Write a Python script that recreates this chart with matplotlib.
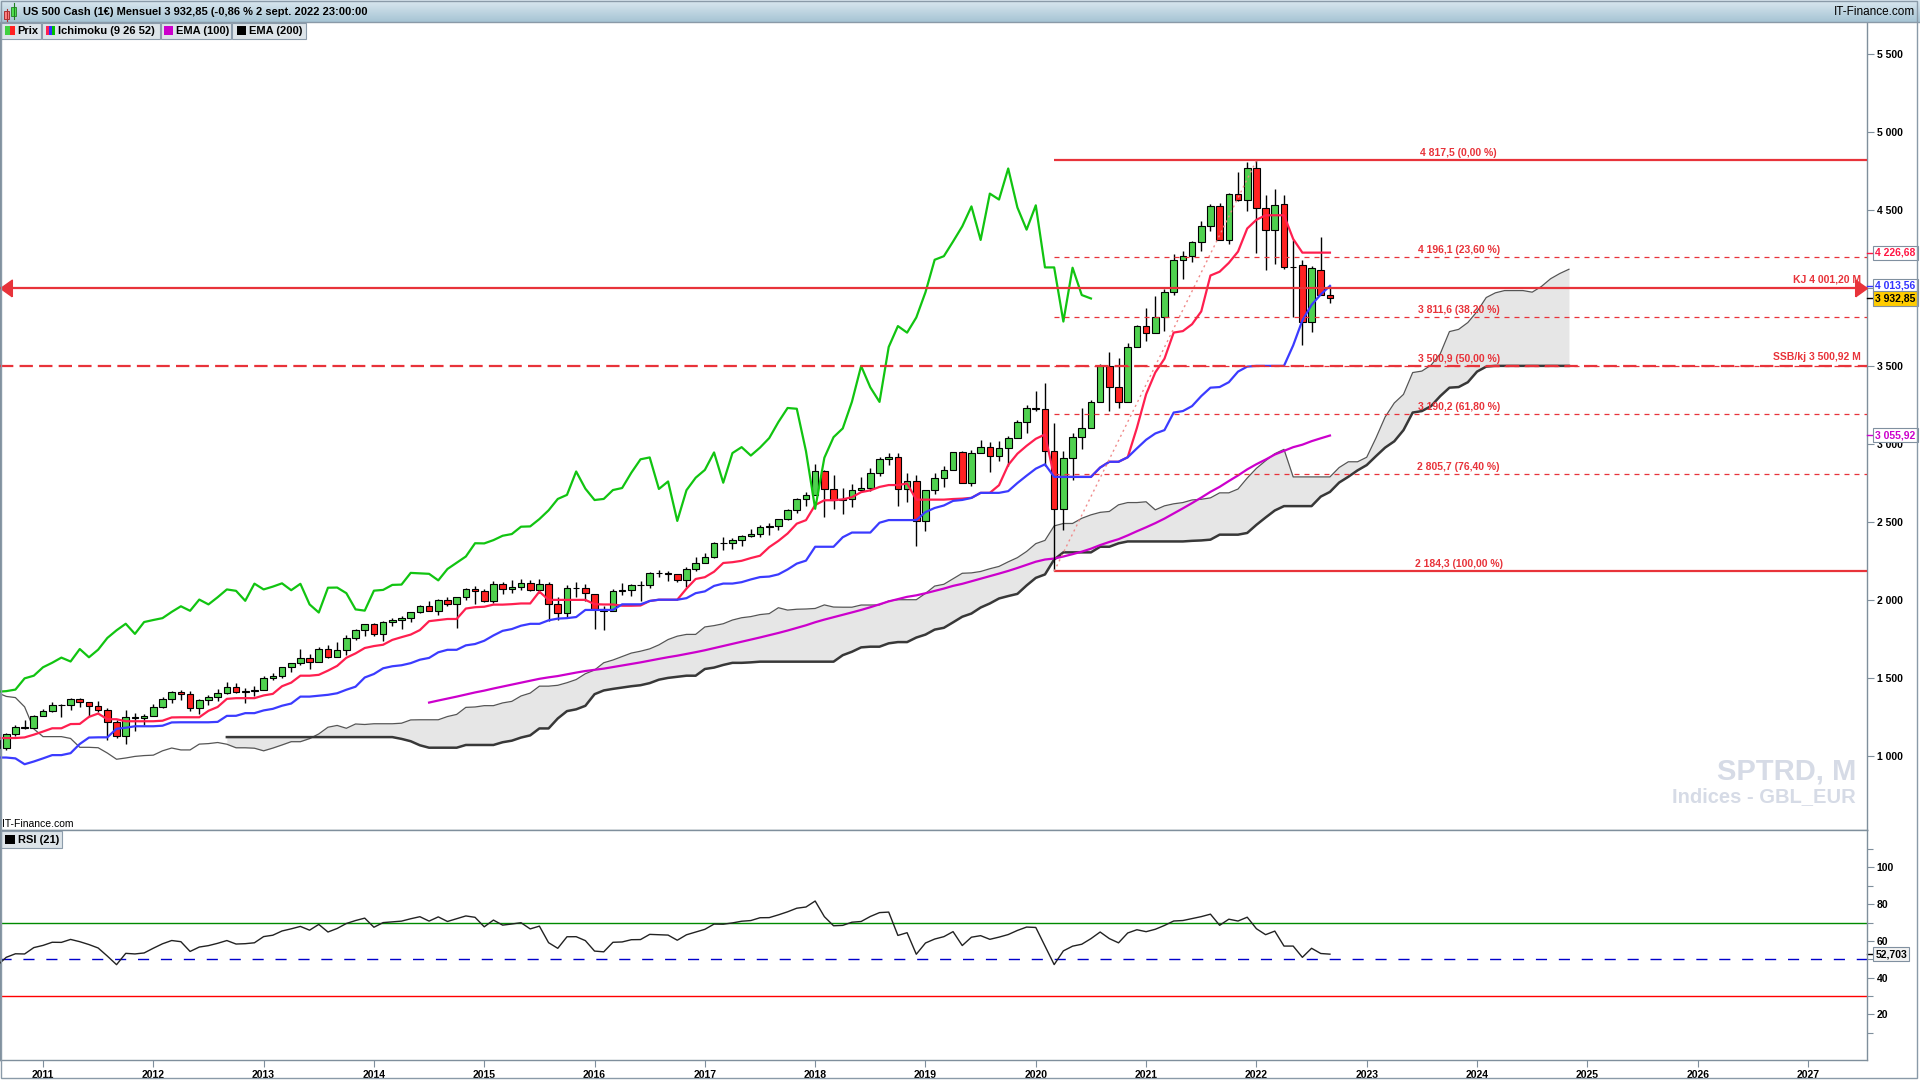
import numpy as np
import matplotlib
matplotlib.use("Agg")
import matplotlib.pyplot as plt
from matplotlib.patches import Rectangle
import matplotlib.transforms as mtransforms

plt.rcParams['font.family'] = ['Liberation Sans', 'DejaVu Sans']

# ---------------- data: monthly OHLC, Apr 2006 .. Sep 2022 ----------------
FIRST_MONTH_INDEX = -57   # Apr 2006, counted in months from Jan 2011

opens = [
    1295, 1311, 1270, 1270, 1277, 1304, 1336, 1378, 1401,
    1418, 1438, 1407, 1421, 1482, 1531, 1503, 1455, 1474, 1527, 1549, 1481,
    1468, 1379, 1331, 1323, 1386, 1400, 1280, 1267, 1283, 1166, 969, 896,
    903, 826, 735, 798, 873, 919, 919, 987, 1021, 1057, 1036, 1096,
    1115, 1074, 1104, 1169, 1187, 1089, 1031, 1102, 1049, 1141, 1183, 1181,
    1258, 1286, 1327, 1326, 1364, 1345, 1321, 1292, 1219, 1131, 1253, 1247,
    1258, 1312, 1366, 1408, 1398, 1310, 1362, 1379, 1407, 1441, 1412, 1416,
    1426, 1498, 1515, 1569, 1598, 1631, 1606, 1686, 1633, 1682, 1757, 1806,
    1848, 1783, 1859, 1872, 1884, 1924, 1960, 1931, 2003, 1972, 2018, 2068,
    2059, 1995, 2105, 2068, 2086, 2107, 2063, 2104, 1972, 1920, 2079, 2080,
    2038, 1940, 1932, 2060, 2065, 2097, 2099, 2174, 2171, 2168, 2126, 2199,
    2239, 2279, 2364, 2363, 2384, 2412, 2423, 2470, 2472, 2519, 2575, 2648,
    2674, 2824, 2714, 2641, 2648, 2705, 2718, 2816, 2902, 2914, 2712, 2760,
    2507, 2704, 2784, 2834, 2946, 2752, 2942, 2980, 2926, 2977, 3038, 3141,
    3231, 3226, 2954, 2585, 2912, 3044, 3100, 3271, 3500, 3363, 3270, 3622,
    3756, 3714, 3811, 3973, 4181, 4204, 4298, 4395, 4523, 4308, 4605, 4567,
    4766, 4516, 4374, 4540, 4132, 4149, 3785, 4113, 3955,
]
highs = [
    1318, 1326, 1290, 1283, 1306, 1340, 1389, 1407, 1432,
    1441, 1462, 1438, 1498, 1535, 1540, 1556, 1504, 1538, 1576, 1553, 1523,
    1471, 1396, 1359, 1397, 1440, 1405, 1293, 1314, 1303, 1167, 1008, 919,
    944, 876, 833, 880, 930, 957, 996, 1040, 1081, 1102, 1113, 1130,
    1150, 1113, 1181, 1220, 1200, 1131, 1120, 1129, 1148, 1196, 1228, 1263,
    1303, 1345, 1333, 1370, 1371, 1346, 1356, 1308, 1230, 1293, 1278, 1270,
    1334, 1378, 1420, 1422, 1415, 1363, 1392, 1427, 1475, 1470, 1434, 1448,
    1510, 1530, 1570, 1598, 1687, 1654, 1698, 1710, 1730, 1775, 1814, 1849,
    1850, 1867, 1884, 1897, 1924, 1968, 1991, 2005, 2019, 2018, 2076, 2093,
    2072, 2120, 2118, 2126, 2135, 2130, 2133, 2113, 2021, 2094, 2117, 2105,
    2038, 1963, 2072, 2111, 2103, 2120, 2178, 2194, 2188, 2169, 2214, 2278,
    2301, 2371, 2401, 2399, 2419, 2454, 2484, 2491, 2519, 2582, 2657, 2695,
    2873, 2835, 2801, 2718, 2742, 2791, 2849, 2917, 2941, 2940, 2816, 2800,
    2708, 2814, 2860, 2949, 2954, 2964, 3028, 3014, 3022, 3050, 3154, 3248,
    3338, 3394, 3137, 2955, 3068, 3233, 3280, 3514, 3588, 3550, 3646, 3760,
    3870, 3951, 3994, 4219, 4238, 4302, 4430, 4538, 4546, 4608, 4744, 4808,
    4817.5, 4595, 4637, 4593, 4307, 4177, 4141, 4325, 4011,
]
lows = [
    1280, 1245, 1219, 1224, 1262, 1290, 1327, 1360, 1385,
    1403, 1389, 1364, 1416, 1476, 1484, 1454, 1371, 1439, 1490, 1406, 1435,
    1270, 1317, 1257, 1312, 1373, 1272, 1200, 1248, 1107, 840, 741, 815,
    805, 735, 667, 784, 866, 893, 869, 979, 992, 1020, 1029, 1086,
    1071, 1045, 1102, 1168, 1040, 1028, 1011, 1040, 1041, 1131, 1174, 1177,
    1257, 1284, 1249, 1294, 1312, 1259, 1283, 1101, 1114, 1075, 1158, 1202,
    1258, 1311, 1340, 1357, 1291, 1267, 1325, 1355, 1397, 1403, 1343, 1385,
    1426, 1485, 1502, 1536, 1582, 1560, 1605, 1627, 1633, 1647, 1747, 1767,
    1770, 1738, 1834, 1815, 1859, 1915, 1930, 1905, 1964, 1821, 2001, 1973,
    1988, 1981, 2040, 2048, 2067, 2057, 2045, 1867, 1872, 1893, 2020, 1993,
    1812, 1810, 1932, 2033, 2025, 1992, 2074, 2147, 2120, 2114, 2084, 2187,
    2239, 2271, 2322, 2329, 2345, 2406, 2407, 2417, 2446, 2510, 2557, 2605,
    2674, 2533, 2585, 2553, 2595, 2692, 2699, 2796, 2864, 2603, 2631, 2346,
    2444, 2681, 2722, 2834, 2750, 2729, 2942, 2822, 2892, 2856, 3038, 3070,
    3214, 2856, 2184.3, 2447, 2767, 2966, 3100, 3271, 3209.6, 3234, 3270, 3622,
    3663, 3714, 3723, 3955, 4057, 4165, 4234, 4368, 4305, 4279, 4560, 4495,
    4222, 4115, 4157, 4125, 3811, 3636, 3721, 3954, 3904,
]
closes = [
    1311, 1270, 1270, 1277, 1304, 1336, 1378, 1401, 1418,
    1438, 1407, 1421, 1482, 1531, 1503, 1455, 1474, 1527, 1549, 1481, 1468,
    1379, 1331, 1323, 1386, 1400, 1280, 1267, 1283, 1166, 969, 896, 903,
    826, 735, 798, 873, 919, 919, 987, 1021, 1057, 1036, 1096, 1115,
    1074, 1104, 1169, 1187, 1089, 1031, 1102, 1049, 1141, 1183, 1181, 1258,
    1286, 1327, 1326, 1364, 1345, 1321, 1292, 1219, 1131, 1253, 1247, 1258,
    1312, 1366, 1408, 1398, 1310, 1362, 1379, 1407, 1441, 1412, 1416, 1426,
    1498, 1515, 1569, 1598, 1631, 1606, 1686, 1633, 1682, 1757, 1806, 1848,
    1783, 1859, 1872, 1884, 1924, 1960, 1931, 2003, 1972, 2018, 2068, 2059,
    1995, 2105, 2068, 2086, 2107, 2063, 2104, 1972, 1920, 2079, 2080, 2044,
    1940, 1932, 2060, 2065, 2097, 2099, 2174, 2171, 2168, 2126, 2199, 2239,
    2279, 2364, 2363, 2384, 2412, 2423, 2470, 2472, 2519, 2575, 2648, 2674,
    2824, 2714, 2641, 2648, 2705, 2718, 2816, 2902, 2914, 2712, 2760, 2507,
    2704, 2784, 2834, 2946, 2752, 2942, 2980, 2926, 2977, 3038, 3141, 3231,
    3226, 2954, 2585, 2912, 3044, 3100, 3271, 3500, 3363, 3270, 3622, 3756,
    3714, 3811, 3973, 4181, 4204, 4298, 4395, 4523, 4308, 4605, 4567, 4766,
    4516, 4374, 4530, 4132, 4132, 3785, 4130, 3955, 3932.85,
]

years = list(range(2011, 2028))
year_labels = [str(y) for y in years]
price_ticks = [1000, 1500, 2000, 2500, 3000, 3500, 4000, 4500, 5000, 5500]
price_tick_labels = ["1 000", "1 500", "2 000", "2 500", "3 000", "3 500", "", "4 500", "5 000", "5 500"]
rsi_ticks = [20, 40, 60, 80, 100]
rsi_minor = [10, 30, 50, 70, 90, 110]

fib_levels = [4817.5, 4196.1, 3811.6, 3500.9, 3190.2, 2805.7, 2184.3]
fib_texts = ["4 817,5 (0,00 %)", "4 196,1 (23,60 %)", "3 811,6 (38,20 %)", "3 500,9 (50,00 %)",
             "3 190,2 (61,80 %)", "2 805,7 (76,40 %)", "2 184,3 (100,00 %)"]
fib_solid = [True, False, False, False, False, False, True]
fib_low_month, fib_high_month = 110, 132      # Mar 2020, Jan 2022
kj_level, kj_text = 4001.20, "KJ 4 001,20 M"
ssb_level, ssb_text = 3500.92, "SSB/kj 3 500,92 M"

value_boxes = [  # value, text, text colour, face colour
    (4226.68, "4 226,68", "#ff1744", "white"),
    (4013.56, "4 013,56", "#3333ff", "white"),
    (3932.85, "3 932,85", "black", "#ffcc00"),
    (3055.92, "3 055,92", "#cc00cc", "white"),
]
rsi_box = (52.703, "52,703")

# ---------------- indicators ----------------
O = np.array(opens, float); H = np.array(highs, float)
L = np.array(lows, float); C = np.array(closes, float)
n = len(C)
xm = np.arange(n) + FIRST_MONTH_INDEX


def midpoint(p):
    out = np.full(n, np.nan)
    for i in range(p - 1, n):
        out[i] = (H[i - p + 1:i + 1].max() + L[i - p + 1:i + 1].min()) / 2
    return out


tenkan = midpoint(9)
kijun = midpoint(26)
ssa = (tenkan + kijun) / 2
ssb = midpoint(52)

ema100 = np.full(n, np.nan)
ema100[99] = C[:100].mean()
for i in range(100, n):
    ema100[i] = ema100[i - 1] + (C[i] - ema100[i - 1]) * 2 / 101

rsi = np.full(n, np.nan)
d = np.diff(C)
g = np.clip(d, 0, None); lo = np.clip(-d, 0, None)
ag = g[:21].mean(); al = lo[:21].mean()
rsi[21] = 100 - 100 / (1 + ag / al)
for i in range(22, n):
    ag = (ag * 20 + g[i - 1]) / 21
    al = (al * 20 + lo[i - 1]) / 21
    rsi[i] = 100 - 100 / (1 + ag / al)

# ---------------- figure ----------------
W, Hpx = 1920, 1080
fig = plt.figure(figsize=(19.2, 10.8), dpi=100)
fig.patch.set_facecolor("white")

X0, X1 = -43 / 9.1925, 1824 / 9.1925
axcol = "#7f8f9c"

ax = fig.add_axes([0, (Hpx - 830) / Hpx, 1867 / W, 808 / Hpx])
ax.set_xlim(X0, X1)
ax.set_ylim(526, 5705)
axr = fig.add_axes([0, (Hpx - 1060) / Hpx, 1867 / W, 230 / Hpx])
axr.set_xlim(X0, X1)
axr.set_ylim(-4.9, 120.4)

for a in (ax, axr):
    for s in a.spines.values():
        s.set_color(axcol)
        s.set_linewidth(1)
    a.yaxis.tick_right()
    a.tick_params(axis="y", direction="out", length=5, width=0.8, color=axcol, pad=2,
                  labelsize=7.5)
ax.spines["top"].set_visible(False)
ax.set_xticks([])
ax.set_yticks(price_ticks)
ax.set_yticklabels(price_tick_labels, fontweight="bold")

axr.set_yticks(rsi_ticks)
axr.set_yticklabels([str(t) for t in rsi_ticks], fontweight="bold")
axr.set_yticks(rsi_minor, minor=True)
axr.tick_params(axis="y", which="minor", direction="out", length=4, width=0.8, color=axcol)
axr.set_xticks([(y - 2011) * 12 for y in years])
axr.set_xticklabels(year_labels, fontweight="bold")
axr.tick_params(axis="x", direction="out", length=5, width=0.8, color=axcol, pad=2, labelsize=7.5)

# --- Ichimoku cloud ---
xs = xm + 26
ok = np.isfinite(ssb)
ax.fill_between(xs, ssa, ssb, where=ok, color="#e6e6e6", lw=0, zorder=1)
ax.plot(xs, ssa, color="#555555", lw=0.9, zorder=2)
ax.plot(xs, ssb, color="#383838", lw=1.8, zorder=2)

# --- EMA 100 ---
ax.plot(xm, ema100, color="#cc00cc", lw=1.6, zorder=3)

# --- candles ---
ax.vlines(xm, L, H, color="black", lw=1.0, zorder=4)
up = C >= O
body_bottom = np.minimum(O, C)
body_h = np.abs(C - O)
ax.bar(xm[up], body_h[up], bottom=body_bottom[up], width=0.72, color="#4fd14f",
       edgecolor="black", linewidth=0.8, zorder=5)
ax.bar(xm[~up], body_h[~up], bottom=body_bottom[~up], width=0.72, color="#ff2222",
       edgecolor="black", linewidth=0.8, zorder=5)

# --- Tenkan / Kijun / Chikou ---
ax.plot(xm, tenkan, color="#ff1f4f", lw=1.6, zorder=6)
ax.plot(xm, kijun, color="#3b3bff", lw=1.6, zorder=6)
ax.plot(xm - 26, C, color="#11c411", lw=1.6, zorder=6)

# --- Fibonacci ---
fibc = "#e8333a"
for lvl, txt, solid in zip(fib_levels, fib_texts, fib_solid):
    if solid:
        ax.hlines(lvl, fib_low_month, X1, color=fibc, lw=1.6, zorder=7)
    else:
        ax.hlines(lvl, fib_low_month, X1, color=fibc, lw=0.9, linestyles=(0, (4, 4)), zorder=7)
    ax.annotate(txt, (154.0, lvl), xytext=(0, 1.5), textcoords="offset points",
                ha="center", va="bottom", color=fibc, fontsize=7.5, fontweight="bold", zorder=8)
ax.plot([fib_low_month, fib_high_month], [fib_levels[-1], fib_levels[0]],
        color="#f08a8a", lw=1.0, ls=(0, (1.5, 2.5)), zorder=7)

# --- KJ / SSB horizontal lines ---
trans = mtransforms.blended_transform_factory(ax.transAxes, ax.transData)
ax.plot([0, 1], [kj_level, kj_level], transform=trans, color=fibc, lw=1.6, zorder=7)
ax.plot([0, 1], [ssb_level, ssb_level], transform=trans, color=fibc, lw=1.6,
        ls=(0, (6, 2.8)), zorder=7)
rarrow = [(-0.7, -1), (0.7, 0), (-0.7, 1), (-0.7, -1)]
larrow = [(0.7, -1), (-0.7, 0), (0.7, 1), (0.7, -1)]
ax.plot([0.9968], [kj_level], transform=trans, marker=rarrow, ms=12, color=fibc,
        clip_on=False, zorder=8, lw=0)
ax.plot([0.0034], [kj_level], transform=trans, marker=larrow, ms=12, color=fibc,
        clip_on=False, zorder=8, lw=0)
ax.annotate(kj_text, (0.9968, kj_level), xycoords=trans, xytext=(0, 2.5),
            textcoords="offset points", ha="right", va="bottom", color=fibc,
            fontsize=7.5, fontweight="bold", zorder=8)
ax.annotate(ssb_text, (0.9968, ssb_level), xycoords=trans, xytext=(0, 2.5),
            textcoords="offset points", ha="right", va="bottom", color=fibc,
            fontsize=7.5, fontweight="bold", zorder=8)

# --- value boxes on the price axis ---
for val, txt, col, fc in value_boxes:
    ax.plot([1.0, 1.0027], [val, val], transform=trans, color=col, lw=1, clip_on=False, zorder=20)
    ax.text(1.0045, val, txt, transform=trans, ha="left", va="center", fontsize=7.5,
            fontweight="bold", color=col, clip_on=False, zorder=21,
            bbox=dict(boxstyle="square,pad=0.2", fc=fc, ec="#8090a0", lw=0.8))

# --- RSI panel ---
axr.axhline(70, color="#008a00", lw=1.0, zorder=2)
axr.axhline(30, color="#ff0000", lw=1.0, zorder=2)
axr.axhline(50, color="#0000cc", lw=1.0, ls=(0, (8, 8.5)), zorder=2)
axr.plot(xm, rsi, color="#222222", lw=1.0, zorder=3)
transr = mtransforms.blended_transform_factory(axr.transAxes, axr.transData)
axr.plot([1.0, 1.0027], [rsi_box[0]] * 2, transform=transr, color="black", lw=1, clip_on=False)
axr.text(1.0045, rsi_box[0], rsi_box[1], transform=transr, ha="left", va="center",
         fontsize=7.5, fontweight="bold", color="black", clip_on=False, zorder=21,
         bbox=dict(boxstyle="square,pad=0.2", fc="#f2f2f2", ec="#8090a0", lw=0.8))

# ---------------- overlay: header, legends, frame, watermark ----------------
ov = fig.add_axes([0, 0, 1, 1], zorder=10)
ov.patch.set_alpha(0)
grad = np.linspace(0, 1, 50).reshape(-1, 1)
top_c = np.array([0xdb, 0xe8, 0xf0]) / 255
bot_c = np.array([0xa6, 0xc4, 0xd4]) / 255
img = top_c[None, None, :] * (1 - grad[:, :, None]) + bot_c[None, None, :] * grad[:, :, None]
ov.imshow(img, extent=[0, W, 22, 0], aspect="auto", zorder=0)
ov.set_xlim(0, W)
ov.set_ylim(Hpx, 0)
ov.axis("off")
ov.plot([0, W], [22, 22], color="#8a9aa8", lw=1)

# title icon
ov.plot([6.5, 6.5], [9, 21], color="#b03030", lw=0.8)
ov.add_patch(Rectangle((4, 11), 5, 8, fc="#ff8080", ec="#a02020", lw=0.6))
ov.plot([13.5, 13.5], [3, 19], color="#208020", lw=0.8)
ov.add_patch(Rectangle((11, 7), 5, 9, fc="#50e050", ec="#208020", lw=0.6))
ov.text(23, 12, "US 500 Cash (1€) Mensuel 3 932,85 (-0,86 % 2 sept. 2022 23:00:00",
        ha="left", va="center", fontsize=8, fontweight="bold", color="black")
ov.text(1915, 12, "IT-Finance.com", ha="right", va="center", fontsize=8.5, color="black")

# legend row
leg_fc, leg_ec = "#dde4e9", "#8c9cab"
boxes = [(1, 41), (42, 160), (161, 231), (232, 306)]
for a_, b_ in boxes:
    ov.add_patch(Rectangle((a_, 22.5), b_ - a_, 16.5, fc=leg_fc, ec=leg_ec, lw=0.8))
ov.add_patch(Rectangle((5, 26), 5, 9, fc="#40d040", lw=0))
ov.add_patch(Rectangle((10, 26), 5, 9, fc="#ff2020", lw=0))
ov.add_patch(Rectangle((46, 26), 3, 9, fc="#ff2050", lw=0))
ov.add_patch(Rectangle((49, 26), 3, 9, fc="#3030ff", lw=0))
ov.add_patch(Rectangle((52, 26), 3, 9, fc="#00c000", lw=0))
ov.add_patch(Rectangle((164, 26), 9, 9, fc="#cc00cc", lw=0))
ov.add_patch(Rectangle((237, 26), 9, 9, fc="black", lw=0))
for xx, t in [(17, "Prix"), (58, "Ichimoku (9 26 52)"), (176, "EMA (100)"), (249, "EMA (200)")]:
    ov.text(xx, 31, t, ha="left", va="center", fontsize=8, fontweight="bold", color="black")

# RSI legend
ov.add_patch(Rectangle((1, 831), 61, 17, fc=leg_fc, ec=leg_ec, lw=0.8))
ov.add_patch(Rectangle((5, 835), 10, 9, fc="black", lw=0))
ov.text(18, 840, "RSI (21)", ha="left", va="center", fontsize=8, fontweight="bold", color="black")

# bottom-left brand of price panel
ov.text(2, 824, "IT-Finance.com", ha="left", va="center", fontsize=7.5, color="black")

# watermark
ov.text(1856, 771, "SPTRD, M", ha="right", va="center", fontsize=21, fontweight="bold",
        color="#d6dbe6")
ov.text(1856, 797, "Indices - GBL_EUR", ha="right", va="center", fontsize=14.5,
        fontweight="bold", color="#d6dbe6")

# outer frame
ov.add_patch(Rectangle((0.5, 0.5), 1916.5, 1077.5, fill=False, ec="#8a9aa8", lw=1))

fig.savefig("out.png", dpi=100, facecolor="white")
